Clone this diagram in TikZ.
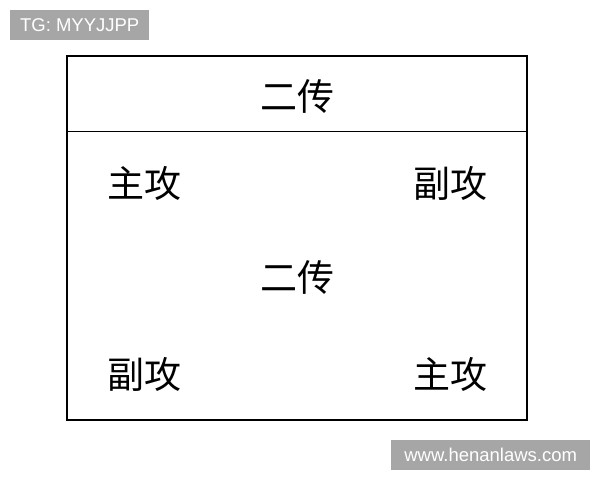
\documentclass[tikz,border=0pt]{standalone}
\usepackage{fontspec}
\setmainfont{Liberation Sans}
\newfontfamily\cjk{Noto Sans CJK SC}
\usepackage{xcolor}
\usepackage{tikz}
\usetikzlibrary{positioning, calc}
\definecolor{markgray}{RGB}{166, 166, 166}

\tikzset{
    role/.style={font=\cjk\fontsize{37}{40}\selectfont, inner sep=0pt},
    tag/.style={fill=markgray, text=white, font=\fontsize{18.5}{20}\selectfont, inner xsep=4pt, inner ysep=0pt, minimum height=30pt, anchor=north west}
}

\begin{document}
\begin{tikzpicture}[x=1pt, y=-1pt]
        \useasboundingbox (0,0) rectangle (600,480);
        % court
        \node[draw=black, line width=2.8pt, minimum width=460pt, minimum height=364pt, inner sep=0pt] (court) at (297,238) {};
        \coordinate (hl) at (67,131);
        \coordinate (hr) at (527,131);
        \draw[line width=1pt] (hl) -- (hr);
        % players
        \node[role] (setA) at (297,97) {二传};
        \node[role] (spikeA) at (144,183) {主攻};
        \node[role] (midA) at (450,183) {副攻};
        \node[role] (setB) at (297,278) {二传};
        \node[role] (midB) at (144,374) {副攻};
        \node[role] (spikeB) at (450,374) {主攻};
        % watermarks
        \node[tag, minimum width=139pt] (tagTG) at (10,10) {TG: MYYJJPP\hfill};
        \node[tag, minimum width=199pt] (tagWeb) at (391,440) {www.henanlaws.com};
    \end{tikzpicture}
\end{document}
